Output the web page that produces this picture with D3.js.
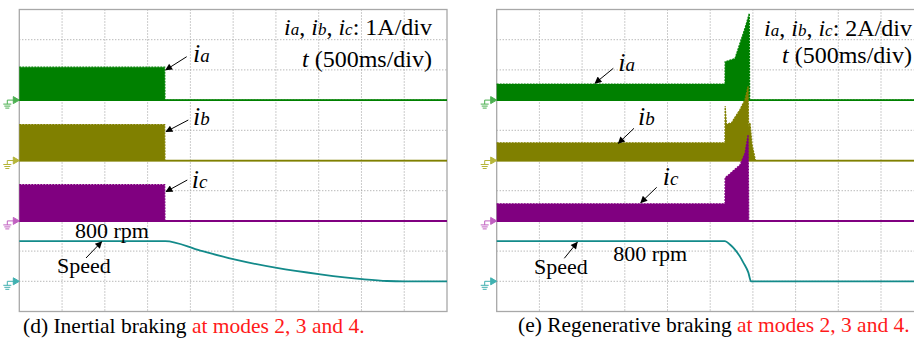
<!DOCTYPE html>
<html><head><meta charset="utf-8">
<script src="https://cdn.jsdelivr.net/npm/d3@7"></script>
<style>
html,body{margin:0;padding:0;background:#fff;}
svg{display:block;}
svg text{font-family:"Liberation Serif","Times New Roman",serif;}
</style></head>
<body><svg id="c" width="914" height="340"></svg>
<script>
// ---------- data (time in s, currents in A, speed in rpm) ----------
const channels = ["ia", "ib", "ic", "Speed"];
const channelColors = ["#008000", "#808000", "#800080", "#138a8a"];
const markerColors = ["#4caf50", "#b5b53a", "#c060c0", "#40b0b0"];
const channelOffsetsDiv = [2, 0, -2, -4];

// (d) inertial braking — 1 A/div
const leftIaT = [0, 1.70, 1.703, 5];
const leftIaV = [1.09, 1.09, 0, 0];
const leftIbT = [0, 1.70, 1.703, 5];
const leftIbV = [1.19, 1.19, 0, 0];
const leftIcT = [0, 1.70, 1.703, 5];
const leftIcV = [1.20, 1.20, 0, 0];
const leftSpeedT = [0, 1.706, 2.116, 2.5, 3.01, 3.52, 4.01, 4.3, 4.5, 5];
const leftSpeedV = [800, 800, 610, 440, 266, 139, 42, 6, 0, 0];

// (e) regenerative braking — 2 A/div
const rightIaT = [0, 2.673, 2.675, 2.79, 2.849, 2.908, 2.958, 2.962, 5];
const rightIaV = [1.06, 1.06, 2.54, 2.75, 3.77, 4.77, 5.74, 0, 0];
const rightIbT = [0, 2.673, 2.675, 2.69, 2.75, 2.849, 2.908, 2.944, 2.95, 2.966, 2.99, 3.03, 5];
const rightIbV = [1.17, 1.17, 3.6, 2.4, 2.5, 3.38, 4.04, 4.9, 2.2, 2.5, 1.06, 0, 0];
const rightIcT = [0, 2.673, 2.675, 2.849, 2.908, 2.944, 2.952, 5];
const rightIcV = [1.13, 1.13, 2.85, 3.71, 4.5, 5.7, 0, 0];
const rightSpeedT = [0, 2.673, 2.731, 2.79, 2.849, 2.888, 2.947, 2.978, 5];
const rightSpeedV = [800, 800, 730, 630, 490, 372, 173, 0, 0];

const ampPerDiv = [1, 2];
const rpmPerDiv = 600;
const timeDomain = [0, 5];   // 500 ms/div, 10 div
const divCount = 10;

const scaleLabels = ["1A/div", "2A/div"];
const timeLabel = "(500ms/div)";
const captionsBlack = ["(d) Inertial braking ", "(e) Regenerative braking "];
const captionRed = "at modes 2, 3 and 4.";

// ---------- layout ----------
const svg = d3.select("#c");
const panels = [
  {x0: 19.3, x1: 447, top: 9.5, bottom: 311.5,
   data: [[leftIaT, leftIaV], [leftIbT, leftIbV], [leftIcT, leftIcV], [leftSpeedT, leftSpeedV]],
   amp: ampPerDiv[0], scaleLabel: scaleLabels[0], textRight: 432, textY: [35, 67],
   caption: captionsBlack[0], capX: 23, capY: 333},
  {x0: 496.7, x1: 923.7, top: 9.5, bottom: 311.5,
   data: [[rightIaT, rightIaV], [rightIbT, rightIbV], [rightIcT, rightIcV], [rightSpeedT, rightSpeedV]],
   amp: ampPerDiv[1], scaleLabel: scaleLabels[1], textRight: 912, textY: [36, 63],
   caption: captionsBlack[1], capX: 518, capY: 332}
];

panels.forEach((p, pi) => {
  const g = svg.append("g");
  const x = d3.scaleLinear().domain(timeDomain).range([p.x0, p.x1]);
  const yDiv = d3.scaleLinear().domain([-divCount/2, divCount/2]).range([p.bottom, p.top]);

  // grid
  const gx = d3.range(1, divCount).map(i => timeDomain[0] + i * (timeDomain[1]-timeDomain[0]) / divCount);
  g.selectAll(".vg").data(gx).join("line")
    .attr("x1", d => x(d)).attr("x2", d => x(d)).attr("y1", p.top).attr("y2", p.bottom)
    .attr("stroke", "#9a9a9a").attr("stroke-width", 1).attr("stroke-dasharray", "1,2");
  const gy = d3.range(-divCount/2 + 1, divCount/2);
  g.selectAll(".hg").data(gy).join("line")
    .attr("x1", p.x0).attr("x2", p.x1).attr("y1", d => yDiv(d)).attr("y2", d => yDiv(d))
    .attr("stroke", "#9a9a9a").attr("stroke-width", 1).attr("stroke-dasharray", "1,2");
  // frame
  g.append("rect").attr("x", p.x0).attr("y", p.top).attr("width", p.x1 - p.x0).attr("height", p.bottom - p.top)
    .attr("fill", "none").attr("stroke", "#a8a8a8").attr("stroke-width", 1.3);

  // traces
  p.data.forEach(([T, V], ci) => {
    const perDiv = ci < 3 ? p.amp : rpmPerDiv;
    const yv = v => yDiv(channelOffsetsDiv[ci] + v / perDiv);
    const pts = T.map((t, i) => [t, V[i]]);
    const col = channelColors[ci];
    if (ci < 3) {
      const area = d3.area().x(d => x(d[0])).y0(yv(0) + 1).y1(d => yv(d[1]));
      g.append("path").datum(pts).attr("d", area).attr("fill", col);
      g.append("path").datum(pts).attr("d", d3.line().x(d => x(d[0])).y(d => yv(d[1])))
        .attr("fill", "none").attr("stroke", col).attr("stroke-width", 1.2).attr("stroke-dasharray", "2,1");
      g.append("line").attr("x1", p.x0).attr("x2", p.x1).attr("y1", yv(0)).attr("y2", yv(0))
        .attr("stroke", col).attr("stroke-width", 1.6);
    } else {
      g.append("path").datum(pts)
        .attr("d", d3.line().curve(d3.curveMonotoneX).x(d => x(d[0])).y(d => yv(d[1])))
        .attr("fill", "none").attr("stroke", col).attr("stroke-width", 1.8);
    }
    // ground marker
    const my = yv(0);
    const mx = p.x0;
    const mc = markerColors[ci];
    const mg = g.append("g").attr("stroke", mc).attr("fill", "none").attr("stroke-width", 1);
    mg.append("line").attr("x1", mx - 12).attr("x2", mx - 5).attr("y1", my).attr("y2", my);
    mg.append("path").attr("d", `M${mx-6},${my-3.5}L${mx},${my}L${mx-6},${my+3.5}Z`).attr("fill", mc);
    mg.append("line").attr("x1", mx - 12).attr("x2", mx - 12).attr("y1", my).attr("y2", my + 4);
    mg.append("line").attr("x1", mx - 16).attr("x2", mx - 8).attr("y1", my + 4).attr("y2", my + 4);
    mg.append("line").attr("x1", mx - 15).attr("x2", mx - 9).attr("y1", my + 6).attr("y2", my + 6);
    mg.append("line").attr("x1", mx - 14).attr("x2", mx - 10).attr("y1", my + 8).attr("y2", my + 8);
  });

  // scale text (top right)
  const t1 = g.append("text").attr("x", p.textRight).attr("y", p.textY[0]).attr("text-anchor", "end")
    .attr("font-size", 24).attr("fill", "#000");
  ["a", "b", "c"].forEach((s, k) => {
    t1.append("tspan").attr("font-style", "italic").text("i");
    t1.append("tspan").attr("font-style", "italic").attr("font-size", 17).text(s);
    t1.append("tspan").text(k < 2 ? ", " : ": ");
  });
  t1.append("tspan").text(p.scaleLabel);
  const t2 = g.append("text").attr("x", p.textRight).attr("y", p.textY[1]).attr("text-anchor", "end")
    .attr("font-size", 24).attr("fill", "#000");
  t2.append("tspan").attr("font-style", "italic").text("t");
  t2.append("tspan").text(" " + timeLabel);

  // caption
  const cap = svg.append("text").attr("x", p.capX).attr("y", p.capY).attr("font-size", 21.5);
  cap.append("tspan").attr("fill", "#000").text(p.caption);
  cap.append("tspan").attr("fill", "#ff1a1a").text(captionRed);
});

// ---------- annotations ----------
svg.append("defs").append("marker").attr("id", "ah").attr("viewBox", "0 0 10 10")
  .attr("refX", 9).attr("refY", 5).attr("markerWidth", 9).attr("markerHeight", 7)
  .attr("markerUnits", "userSpaceOnUse").attr("orient", "auto")
  .append("path").attr("d", "M0,0L10,5L0,10Z").attr("fill", "#000");

const labels = [
  {sub: "a", x: 193, y: 62, ax1: 186.7, ay1: 56.7, ax2: 165.7, ay2: 70},
  {sub: "b", x: 193, y: 124.5, ax1: 188.3, ay1: 120, ax2: 166, ay2: 131.7},
  {sub: "c", x: 191.7, y: 188, ax1: 187.3, ay1: 180, ax2: 166, ay2: 191.7},
  {sub: "a", x: 618.3, y: 70.7, ax1: 613.3, ay1: 68.3, ax2: 595, ay2: 83.3},
  {sub: "b", x: 638, y: 125, ax1: 634, ay1: 128.3, ax2: 618.3, ay2: 143.3},
  {sub: "c", x: 662.7, y: 185, ax1: 656.7, ay1: 187.3, ax2: 640.7, ay2: 202.7}
];
labels.forEach(l => {
  const t = svg.append("text").attr("x", l.x).attr("y", l.y).attr("font-style", "italic");
  t.append("tspan").attr("font-size", 26).text("i");
  t.append("tspan").attr("font-size", 19).text(l.sub);
  svg.append("line").attr("x1", l.ax1).attr("y1", l.ay1).attr("x2", l.ax2).attr("y2", l.ay2)
    .attr("stroke", "#000").attr("stroke-width", 1).attr("marker-end", "url(#ah)");
});

const plain = [
  {t: "800 rpm", x: 75, y: 238}, {t: "Speed", x: 57, y: 273},
  {t: "800 rpm", x: 613.3, y: 260.7}, {t: "Speed", x: 534, y: 274}
];
plain.forEach(p => svg.append("text").attr("x", p.x).attr("y", p.y).attr("font-size", 22).text(p.t));
[[86, 258, 101.7, 241.7], [564.3, 258.3, 577.3, 242.3]].forEach(a =>
  svg.append("line").attr("x1", a[0]).attr("y1", a[1]).attr("x2", a[2]).attr("y2", a[3])
    .attr("stroke", "#000").attr("stroke-width", 1).attr("marker-end", "url(#ah)"));
</script></body></html>
